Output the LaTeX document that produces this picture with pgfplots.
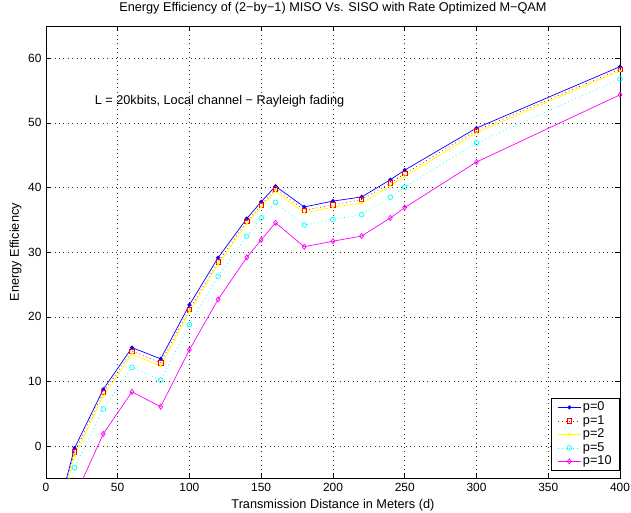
\documentclass[border=0pt]{standalone}
\usepackage{fontspec}
\setmainfont{Liberation Sans}
\usepackage{pgfplots}
\pgfplotsset{compat=1.18}
\definecolor{myblue}{rgb}{0,0,1}
\definecolor{myred}{rgb}{1,0,0}
\definecolor{myyellow}{rgb}{1,1,0}
\definecolor{mycyan}{rgb}{0,1,1}
\definecolor{mymag}{rgb}{1,0,1}
\begin{document}
\fontsize{12.8}{15}\selectfont
\begin{tikzpicture}
\begin{axis}[
  at={(0,0)}, anchor=south west,
  width=576bp, height=454bp, scale only axis,
  xmin=0, xmax=400, ymin=-5, ymax=65,
  xtick={0,50,...,400}, ytick={0,10,...,60},
  grid=major, major grid style={dash pattern=on 0.8bp off 3.6bp, black!80, line width=0.6pt},
  tick style={black, line width=0.5pt}, major tick length=5bp,
  axis line style={black, line width=0.6pt},
  /pgf/number format/assume math mode=true,
  tick label style={font=\fontsize{12}{14}\selectfont},
  title={Energy Efficiency of (2−by−1) MISO Vs. SISO with Rate Optimized M−QAM},
  title style={yshift=1bp},
  xlabel={Transmission Distance in Meters (d)},
  ylabel={Energy Efficiency},
  xlabel style={yshift=1bp},
  ylabel style={yshift=-2bp},
  legend style={at={(1,0.016)}, anchor=south east, draw=black, line width=1pt,
    font=\fontsize{12.8}{13}\selectfont, row sep=-1.2pt, inner xsep=6pt, inner ysep=2pt,
    nodes={inner sep=2pt}},
  legend cell align=left,
  legend image code/.code={\draw[mark repeat=2,mark phase=2,#1] plot coordinates {(0cm,0cm) (0.4cm,0cm) (0.8cm,0cm)};},
  legend image post style={line width=0.7pt},
]
\addplot[myblue, line width=0.7pt, mark=*, mark size=1.7pt, mark options={solid}] coordinates {
(10,-8.7) (20,-0.3) (40,8.8) (60,15.25) (80,13.5) (100,21.85) (120,29.15) (140,35.2) (150,37.8) (160,40.2)
(180,37.0) (200,37.9) (220,38.55) (240,41.2) (250,42.7) (300,49.2) (400,58.7)};
\addlegendentry{p=0}
\addplot[myred, dash pattern=on 0.8bp off 3bp, line width=0.7pt, mark=square, mark size=2.2pt, mark options={solid}] coordinates {
(10,-9.5) (20,-0.9) (40,8.3) (60,14.7) (80,12.9) (100,21.2) (120,28.5) (140,34.75) (150,37.3) (160,39.8)
(180,36.5) (200,37.3) (220,38.15) (240,40.7) (250,42.15) (300,48.85) (400,58.3)};
\addlegendentry{p=1}
\addplot[myyellow, line width=0.7pt, mark=x, mark size=2pt, mark options={solid}] coordinates {
(10,-10.8) (20,-1.45) (40,7.8) (60,14.2) (80,12.4) (100,20.8) (120,28.1) (140,34.4) (150,37.0) (160,39.4)
(180,36.1) (200,36.95) (220,37.6) (240,40.3) (250,41.7) (300,48.5) (400,58.05)};
\addlegendentry{p=2}
\addplot[mycyan, dash pattern=on 0.8bp off 3bp, line width=0.7pt, mark=o, mark size=2.4pt, mark options={solid}] coordinates {
(10,-14) (20,-3.35) (40,5.75) (60,12.2) (80,10.2) (100,18.8) (120,26.3) (140,32.5) (150,35.3) (160,37.7)
(180,34.2) (200,35.05) (220,35.8) (240,38.5) (250,40.05) (300,46.9) (400,56.8)};
\addlegendentry{p=5}
\addplot[mymag, line width=0.7pt, mark=diamond, mark size=2.6pt, mark options={solid}] coordinates {
(10,-18) (20,-7.9) (40,1.9) (60,8.4) (80,6.1) (100,14.9) (120,22.7) (140,29.2) (150,31.9) (160,34.55)
(180,30.85) (200,31.7) (220,32.5) (240,35.3) (250,36.9) (300,43.95) (400,54.35)};
\addlegendentry{p=10}
\node[anchor=west, font=\fontsize{12.8}{14}\selectfont] at (axis cs:31,53.4) {L = 20kbits, Local channel − Rayleigh fading};
\end{axis}
\pgfresetboundingbox
\path (-46bp,-34bp) rectangle (587bp,480bp);
\end{tikzpicture}
\end{document}
